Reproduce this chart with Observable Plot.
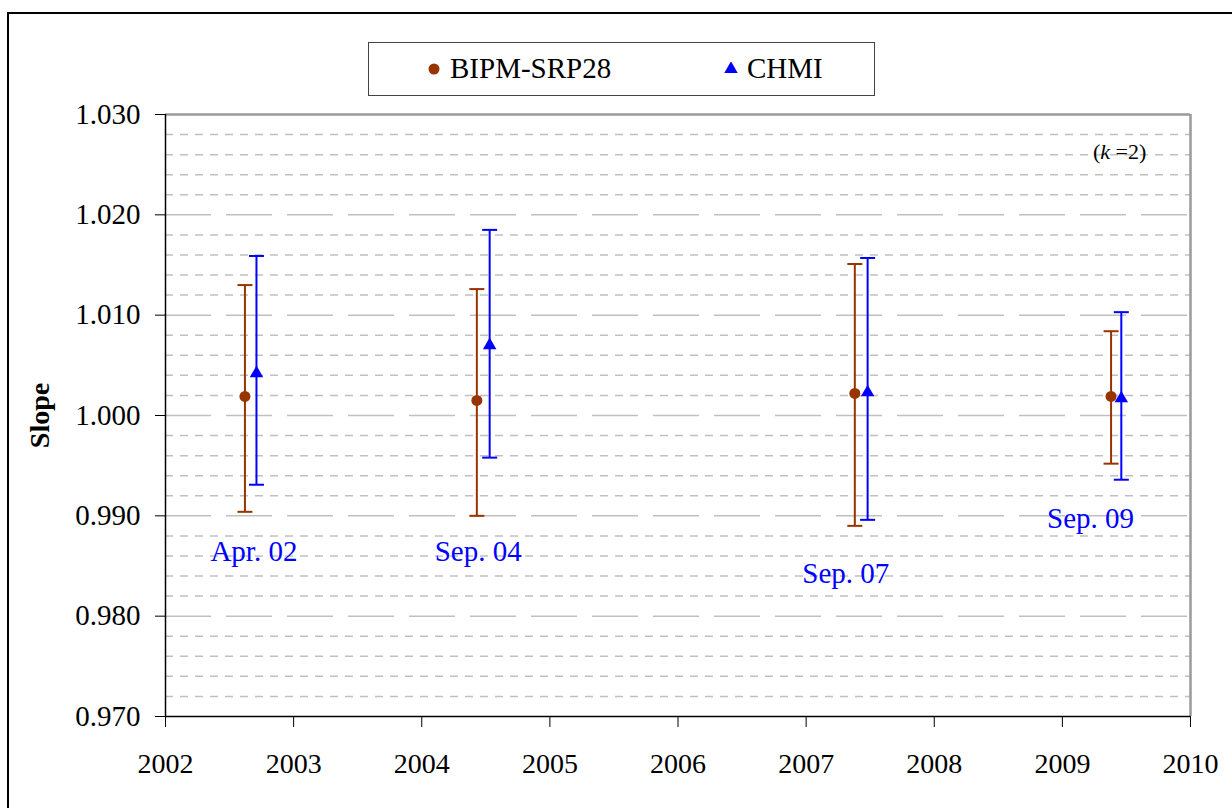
<!DOCTYPE html>
<html>
<head>
<meta charset="utf-8">
<script src="https://cdn.jsdelivr.net/npm/d3@7"></script>
<script src="https://cdn.jsdelivr.net/npm/@observablehq/plot@0.6"></script>
<style>
  html, body { margin: 0; padding: 0; background: white; overflow: hidden; }
  #wrap { position: relative; width: 1232px; height: 808px; font-family: "Liberation Serif", serif; }
  #wrap svg { position: absolute; left: 0; top: 0; }
  #wrap svg text { font-family: "Liberation Serif", serif; }
  #outer { position: absolute; left: 7px; top: 12px; width: 1260px; height: 900px; border: 2px solid black; box-sizing: border-box; pointer-events: none; }
  #legend { position: absolute; left: 368px; top: 42px; width: 507px; height: 54px; border: 1.5px solid #444; box-sizing: border-box; background: white; font-family: "Liberation Serif", serif; font-size: 29px; color: black; }
  #legend .item { position: absolute; top: 0; height: 51px; display: flex; align-items: center; }
  #legend svg { position: static; margin-right: 9px; }
  #kann { position: absolute; left: 1093px; top: 139px; font-family: "Liberation Serif", serif; font-size: 22px; color: black; white-space: nowrap; }
</style>
</head>
<body>
<div id="wrap"></div>
<script>
// ---- data ----
const years = [2002, 2003, 2004, 2005, 2006, 2007, 2008, 2009, 2010];
const yTicks = [0.970, 0.980, 0.990, 1.000, 1.010, 1.020, 1.030];

const bipmYear  = [2002.62, 2004.43, 2007.38, 2009.38];
const bipmSlope = [1.0019, 1.0015, 1.0022, 1.0019];
const bipmUpper = [1.0130, 1.0126, 1.0151, 1.0084];
const bipmLower = [0.9904, 0.9900, 0.9890, 0.9952];

const chmiYear  = [2002.71, 2004.53, 2007.48, 2009.46];
const chmiSlope = [1.0042, 1.0070, 1.0023, 1.0017];
const chmiUpper = [1.0159, 1.0185, 1.0157, 1.0103];
const chmiLower = [0.9931, 0.9958, 0.9896, 0.9936];

const labelText  = ["Apr. 02", "Sep. 04", "Sep. 07", "Sep. 09"];
const labelYear  = [2002.69, 2004.44, 2007.31, 2009.22];
const labelSlope = [0.9864, 0.9864, 0.9842, 0.9897];

const seriesNames = ["BIPM-SRP28", "CHMI"];
// ---------------

const serif = "Liberation Serif";
const brown = "#993300";
const blue = "#0000ff";
const idx = d3.range(bipmYear.length);

const majorGrid = [0.980, 0.990, 1.000, 1.010, 1.020];
const minorGrid = d3.range(972, 1030, 2).filter(v => v % 10 !== 0).map(v => v / 1000);

const capSymbol = {
  draw(context, size) {
    const w = 7.5;
    context.moveTo(-w, 0);
    context.lineTo(w, 0);
  }
};

function errorMarks(xs, lo, hi, color) {
  return [
    Plot.ruleX(idx, {x: i => xs[i], y1: i => lo[i], y2: i => hi[i], stroke: color, strokeWidth: 2}),
    Plot.dot(idx, {x: i => xs[i], y: i => hi[i], symbol: capSymbol, stroke: color, fill: "none", strokeWidth: 2}),
    Plot.dot(idx, {x: i => xs[i], y: i => lo[i], symbol: capSymbol, stroke: color, fill: "none", strokeWidth: 2})
  ];
}

const chart = Plot.plot({
  width: 1232,
  height: 808,
  marginLeft: 165,
  marginRight: 42,
  marginTop: 114,
  marginBottom: 92,
  style: {fontFamily: '"Liberation Serif", serif', fontSize: "28px", color: "black", background: "transparent", overflow: "visible"},
  x: {domain: [2002, 2010], label: null},
  y: {domain: [0.970, 1.030], label: null},
  marks: [
    Plot.ruleY(minorGrid, {stroke: "#c0c0c0", strokeWidth: 1.5, strokeDasharray: "8,7"}),
    Plot.ruleY(majorGrid, {stroke: "#c0c0c0", strokeWidth: 1.5, strokeDasharray: "46,15"}),
    Plot.ruleY([1.030], {stroke: "#9a9a9a", strokeWidth: 2.5}),
    Plot.ruleX([2010], {stroke: "#9a9a9a", strokeWidth: 2.5}),
    Plot.ruleX([2002], {stroke: "black", strokeWidth: 1.5}),
    Plot.ruleY([0.970], {stroke: "black", strokeWidth: 1.5}),
    Plot.axisY({ticks: yTicks, tickFormat: d3.format(".3f"), tickSize: 10, tickPadding: 15, label: null, fontSize: 29, fontFamily: serif}),
    Plot.axisX({ticks: years, tickFormat: d3.format("d"), tickSize: 11, tickPadding: 26, label: null, fontSize: 28, fontFamily: serif}),
    ...errorMarks(bipmYear, bipmLower, bipmUpper, brown),
    ...errorMarks(chmiYear, chmiLower, chmiUpper, blue),
    Plot.dot(idx, {x: i => bipmYear[i], y: i => bipmSlope[i], r: 5.5, fill: brown, stroke: "none"}),
    Plot.dot(idx, {x: i => chmiYear[i], y: i => chmiSlope[i], symbol: "triangle", r: 5, fill: blue, stroke: "none"}),
    Plot.text(idx, {x: i => labelYear[i], y: i => labelSlope[i], text: i => labelText[i], fill: blue, fontSize: 29, fontFamily: serif}),
    Plot.text(["Slope"], {frameAnchor: "left", textAnchor: "middle", rotate: -90, dx: -125, fontWeight: "bold", fontSize: 28, fill: "black", fontFamily: serif})
  ]
});

const wrap = document.getElementById("wrap");
wrap.appendChild(chart);

// legend
const legend = document.createElement("div");
legend.id = "legend";
legend.innerHTML = `
  <div class="item" style="left:58px">
    <svg width="14" height="14" viewBox="-7 -7 14 14"><circle r="5.5" fill="${brown}"/></svg>
    <span>${seriesNames[0]}</span>
  </div>
  <div class="item" style="left:355px">
    <svg width="14" height="14" viewBox="-7 -7 14 14"><path d="${d3.symbol(d3.symbolTriangle, Math.PI * 25)()}" fill="${blue}"/></svg>
    <span>${seriesNames[1]}</span>
  </div>`;
wrap.appendChild(legend);

const kann = document.createElement("div");
kann.id = "kann";
kann.innerHTML = "(<i>k</i> =2)";
wrap.appendChild(kann);

const outer = document.createElement("div");
outer.id = "outer";
wrap.appendChild(outer);
</script>
</body>
</html>
